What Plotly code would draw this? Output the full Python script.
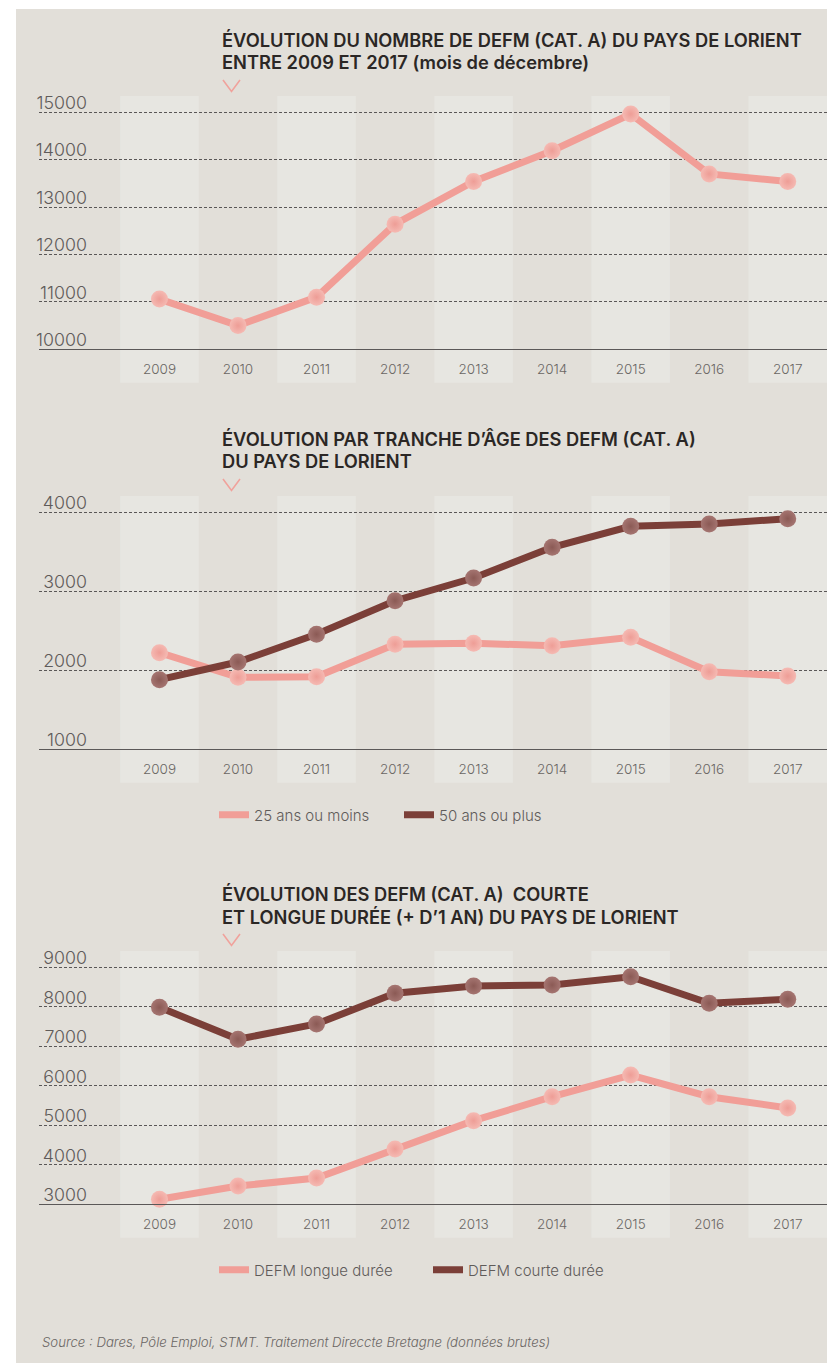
import plotly.graph_objects as go

W, H = 827, 1363

# ---------------- data ----------------
years = ["2009", "2010", "2011", "2012", "2013", "2014", "2015", "2016", "2017"]

defm_total = [11060, 10500, 11100, 12640, 13540, 14190, 14965, 13700, 13540]

age_25_moins = [2223, 1911, 1919, 2329, 2342, 2311, 2418, 1982, 1928]
age_50_plus = [1881, 2105, 2456, 2881, 3168, 3557, 3823, 3852, 3919]

longue_duree = [3127, 3463, 3666, 4400, 5117, 5724, 6273, 5724, 5438]
courte_duree = [7987, 7177, 7565, 8342, 8527, 8552, 8762, 8089, 8190]

ticks1 = [10000, 11000, 12000, 13000, 14000, 15000]
ticks2 = [1000, 2000, 3000, 4000]
ticks3 = [3000, 4000, 5000, 6000, 7000, 8000, 9000]

title1 = ["ÉVOLUTION DU NOMBRE DE DEFM (CAT. A) DU PAYS DE LORIENT",
          "ENTRE 2009 ET 2017 (mois de décembre)"]
title2 = ["ÉVOLUTION PAR TRANCHE D’ÂGE DES DEFM (CAT. A)",
          "DU PAYS DE LORIENT"]
title3 = ["ÉVOLUTION DES DEFM (CAT. A)  COURTE",
          "ET LONGUE DURÉE (+ D’1 AN) DU PAYS DE LORIENT"]

name_25 = "25 ans ou moins"
name_50 = "50 ans ou plus"
name_longue = "DEFM longue durée"
name_courte = "DEFM courte durée"

source = "Source : Dares, Pôle Emploi, STMT. Traitement Direccte Bretagne (données brutes)"

# ---------------- style ----------------
PANEL = "#e2dfd9"
BAND = "#e7e6e1"
PINK = "#f19e97"
PINK_M = "#f5bab3"
PINK_G = "#ee9d96"
DARK = "#7b3f38"
DARK_M = "#a57571"
DARK_G = "#8b5a55"
GRID = "#5a5757"
TICK = "#5f5b59"
TITLE = "#2b2725"
FONT = "Inter, 'Noto Sans', sans-serif"


def px(p):
    return p / W


def py(p):
    return 1 - p / H


charts = [
    dict(bottom=349.3, ymin=10000, ymax=15300, k=47.4 / 1000, band=(96, 382.7),
         ticks=ticks1, title=title1, ty=40),
    dict(bottom=749.3, ymin=1000, ymax=4210, k=79.0 / 1000, band=(496, 782.7),
         ticks=ticks2, title=title2, ty=439),
    dict(bottom=1204.3, ymin=3000, ymax=9400, k=39.5 / 1000, band=(951, 1237.7),
         ticks=ticks3, title=title3, ty=894),
]

fig = go.Figure()


def add_series(idx, vals, color, mcolor, gcolor, name=None, legend=None):
    xa = "x" if idx == 0 else f"x{idx + 1}"
    ya = "y" if idx == 0 else f"y{idx + 1}"
    fig.add_trace(go.Scatter(
        x=years, y=vals, mode="lines", xaxis=xa, yaxis=ya,
        line=dict(color=color, width=7), cliponaxis=False,
        name=name, showlegend=name is not None, legend=legend,
        hoverinfo="skip"))
    fig.add_trace(go.Scatter(
        x=years, y=vals, mode="markers", xaxis=xa, yaxis=ya,
        marker=dict(size=17, color=mcolor, line=dict(width=0),
                    gradient=dict(type="radial", color=gcolor)),
        cliponaxis=False, showlegend=False, hovertemplate="%{y}<extra></extra>"))


add_series(0, defm_total, PINK, PINK_M, PINK_G)
add_series(1, age_25_moins, PINK, PINK_M, PINK_G, name_25, "legend")
add_series(1, age_50_plus, DARK, DARK_M, DARK_G, name_50, "legend")
add_series(2, longue_duree, PINK, PINK_M, PINK_G, name_longue, "legend2")
add_series(2, courte_duree, DARK, DARK_M, DARK_G, name_courte, "legend2")

shapes = [dict(type="rect", xref="paper", yref="paper", x0=px(16), x1=1,
               y0=0, y1=py(9), fillcolor=PANEL, line=dict(width=0), layer="below")]
annotations = []
layout_axes = {}

for i, c in enumerate(charts):
    suffix = "" if i == 0 else str(i + 1)
    top = c["bottom"] - (c["ymax"] - c["ymin"]) * c["k"]
    layout_axes["xaxis" + suffix] = dict(
        domain=[px(39), 1], anchor="y" + suffix, type="category",
        categoryorder="array", categoryarray=years, range=[-1.534, 8.5],
        showline=True, linecolor="#5b5858", linewidth=1.3,
        showgrid=False, zeroline=False, automargin=False,
        ticks="outside", ticklen=7, tickcolor="rgba(0,0,0,0)",
        tickfont=dict(family=FONT, size=13.5, color="#6a6664", weight=300),
        fixedrange=True)
    layout_axes["yaxis" + suffix] = dict(
        domain=[py(c["bottom"]), py(top)], range=[c["ymin"], c["ymax"]],
        anchor="free", position=px(87), tickvals=c["ticks"], tickformat="d",
        ticklabelposition="outside top", ticklabelshift=3, ticks="", automargin=False,
        showgrid=True, gridcolor=GRID, gridwidth=1, griddash="3px,2px",
        showline=False, zeroline=False,
        tickfont=dict(family=FONT, size=17.8, color=TICK, weight=300),
        fixedrange=True)
    for j, yr in enumerate(years):
        if j % 2 == 0:
            shapes.append(dict(type="rect", xref="x" + suffix, yref="paper",
                               x0=j - 0.5, x1=j + 0.5,
                               y0=py(c["band"][1]), y1=py(c["band"][0]),
                               fillcolor=BAND, line=dict(width=0), layer="below"))
    for li, line in enumerate(c["title"]):
        annotations.append(dict(
            text=line, xref="paper", yref="paper", x=px(220), y=py(c["ty"] + 22.5 * li),
            xanchor="left", yanchor="middle", showarrow=False, align="left",
            font=dict(family=FONT, size=18.3, color=TITLE, weight=600)))
    cy = c["ty"] + 40
    shapes.append(dict(
        type="path", xref="paper", yref="paper",
        path=f"M {px(223)},{py(cy)} L {px(231.5)},{py(cy + 11.5)} L {px(240)},{py(cy)}",
        line=dict(color="#f0a29c", width=1.6), layer="above"))

annotations.append(dict(
    text=source, xref="paper", yref="paper", x=px(40), y=py(1342),
    xanchor="left", yanchor="middle", showarrow=False,
    font=dict(family=FONT, size=13.2, color="#6a6664", style="italic", weight=300)))

legend_font = dict(family=FONT, size=15, color=TICK, weight=300)

fig.update_layout(
    width=W, height=H,
    margin=dict(l=0, r=0, t=0, b=0, pad=0, autoexpand=False),
    paper_bgcolor="white", plot_bgcolor="rgba(0,0,0,0)",
    shapes=shapes, annotations=annotations,
    legend=dict(x=px(214), y=py(815), xanchor="left", yanchor="middle",
                orientation="h", bgcolor="rgba(0,0,0,0)", font=legend_font,
                itemwidth=30, entrywidth=140, traceorder="normal"),
    legend2=dict(x=px(214), y=py(1270), xanchor="left", yanchor="middle",
                 orientation="h", bgcolor="rgba(0,0,0,0)", font=legend_font,
                 itemwidth=30, entrywidth=169, traceorder="normal"),
    **layout_axes,
)

fig.write_html(
    "out.html",
    config={"displayModeBar": False},
    post_script=(
        "document.body.style.margin='0';document.body.style.overflow='hidden';"
        "var gd=document.getElementById('{plot_id}');"
        "gd.style.position='absolute';gd.style.top='0px';gd.style.left='0px';"
    ),
)
